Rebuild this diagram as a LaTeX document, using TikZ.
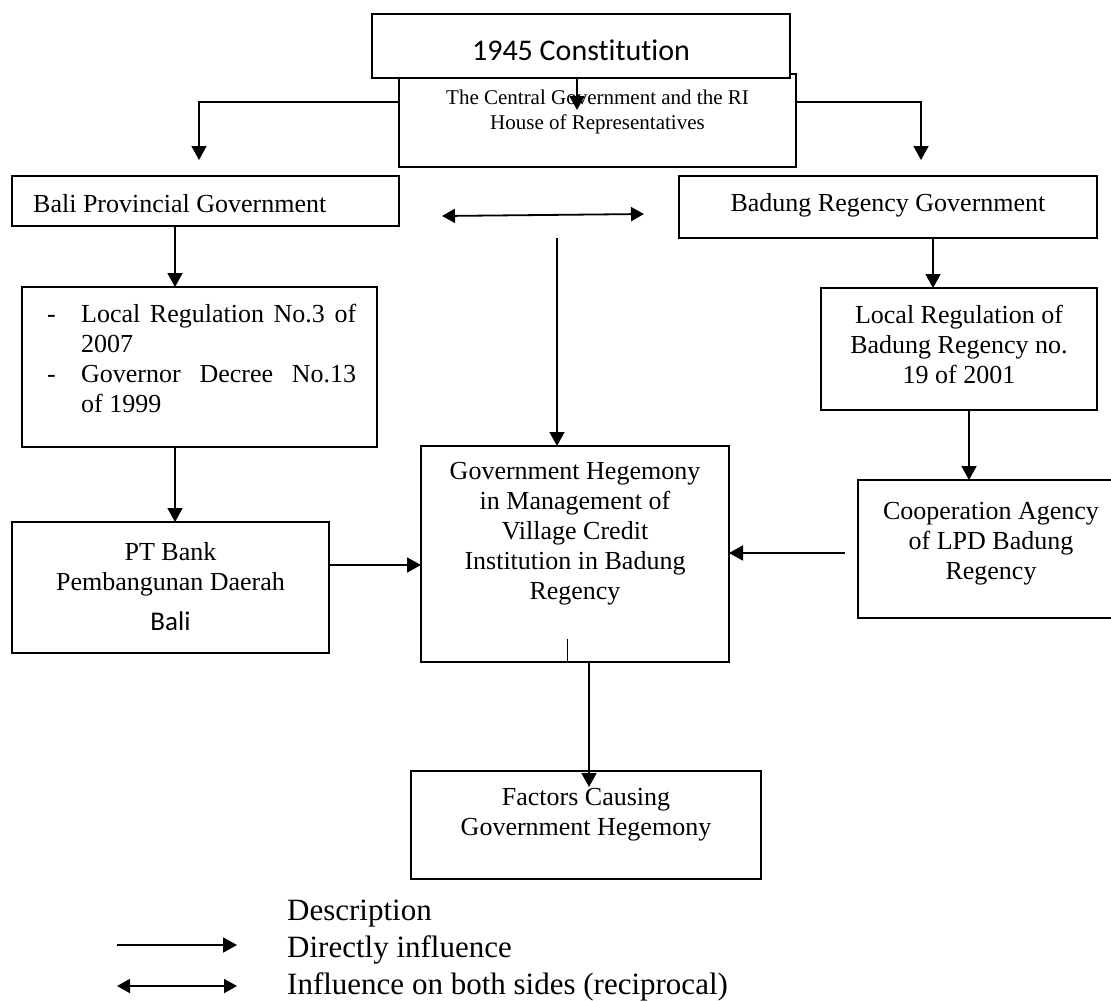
\documentclass[tikz,border=0pt]{standalone}
\usepackage{fontspec}
\setmainfont{Liberation Serif}
\newfontfamily\calfont[Ligatures=NoCommon]{Carlito}
\usepackage{tikz}
\usetikzlibrary{arrows.meta}

\begin{document}
\begin{tikzpicture}[x=1pt, y=-1pt,
    box/.style n args={2}{shape=rectangle, draw=black, line width=1.6pt, fill=white, anchor=north west, outer sep=0pt, inner sep=0pt, minimum width=#1, minimum height=#2},
    txt/.style={inner sep=0pt, font=\fontsize{26}{30}\selectfont},
    mtxt/.style={txt, align=center},
    arr/.style={line width=1.8pt, -{Triangle[length=14pt, width=15pt]}},
    dbl/.style={line width=1.8pt, {Triangle[length=13pt, width=14pt]}-{Triangle[length=13pt, width=14pt]}}]
      \useasboundingbox (0,0) rectangle (1111,1001);
      \fill [white] (0,0) rectangle (1111,1001);
      \node (cent) [box={397pt}{93pt}] at (399,74) {};
      \node (centtxt) [mtxt, anchor=north, font=\fontsize{21}{25}\selectfont] at ([yshift=-16pt]cent.north) {The Central Government and the RI\\House of Representatives};
      \node (cons) [box={418pt}{64pt}] at (372,14) {};
      \node (constxt) [txt, font=\calfont\fontsize{30}{36}\selectfont] at ([yshift=-4pt]cons.center) {1945 Constitution};
      \node (bali) [box={387pt}{50pt}] at (12,176) {};
      \node (balitxt) [txt, anchor=north west] at (33,194) {Bali Provincial Government};
      \node (badung) [box={418pt}{62pt}] at (679,176) {};
      \node (badtxt) [txt, anchor=north] at ([yshift=-17pt]badung.north) {Badung Regency Government};
      \node (lreg) [box={355pt}{160pt}] at (22,287) {};
      \node (lregtxt) [txt, anchor=north west] at (47,301) {\begin{tabular}{@{}p{34pt}@{}p{275pt}@{}}-&Local Regulation No.3 of\linebreak 2007\\-&Governor Decree No.13\linebreak of 1999\end{tabular}};
      \node (bank) [box={317pt}{131pt}] at (12,522) {};
      \node (banktxt) [mtxt, anchor=north] at ([yshift=-20pt]bank.north) {PT Bank\\Pembangunan Daerah\\[10pt]{\calfont\fontsize{27}{30}\selectfont Bali}};
      \node (heg) [box={308pt}{216pt}] at (421,446) {};
      \node (hegtxt) [mtxt, anchor=north] at ([yshift=-16pt]heg.north) {Government Hegemony\\in Management of\\Village Credit\\Institution in Badung\\Regency};
      \node (lrb) [box={276pt}{122pt}] at (821,288) {};
      \node (lrbtxt) [mtxt, anchor=north] at ([yshift=-17pt]lrb.north) {Local Regulation of\\Badung Regency no.\\19 of 2001};
      \node (coop) [box={266pt}{138pt}] at (858,480) {};
      \node (cooptxt) [mtxt, anchor=north] at ([yshift=-22pt]coop.north) {Cooperation Agency\\of LPD Badung\\Regency};
      \node (fact) [box={350pt}{108pt}] at (411,771) {};
      \node (facttxt) [mtxt, anchor=north] at ([yshift=-17pt]fact.north) {Factors Causing\\Government Hegemony};
      \coordinate (centin) at (577,110);
      \coordinate (row) at (0,102);
      \coordinate (baliin) at (199,160);
      \coordinate (badin) at (921,160);
      \coordinate (lcol) at (175,0);
      \coordinate (bankrow) at (0,565);
      \coordinate (midtop) at (557,238);
      \coordinate (recl) at (442,216);
      \coordinate (recr) at (644,214);
      \coordinate (rcol) at (933,0);
      \coordinate (rcol2) at (969,0);
      \coordinate (coopout) at (845,553);
      \coordinate (stub) at (567,639);
      \coordinate (factin) at (589,787);
      \draw [arr] (cons.south -| centin) -- (centin);
      \draw [arr] (cent.west |- row) -| (baliin);
      \draw [arr] (cent.east |- row) -| (badin);
      \draw [arr] (bali.south -| lcol) -- (lreg.north -| lcol);
      \draw [arr] (lreg.south -| lcol) -- (bank.north -| lcol);
      \draw [arr] (bank.east |- bankrow) -- (heg.west |- bankrow);
      \draw [dbl] (recl) -- (recr);
      \draw [arr, line width=1.4pt] (midtop) -- (heg.north -| midtop);
      \draw [arr] (badung.south -| rcol) -- (lrb.north -| rcol);
      \draw [arr] (lrb.south -| rcol2) -- (coop.north -| rcol2);
      \draw [arr] (coopout) -- (heg.east |- coopout);
      \draw [line width=1pt] (heg.south -| stub) -- (stub);
      \draw [arr] (heg.south -| factin) -- (factin);
      \node (legtxt) [txt, anchor=north west, align=left, font=\fontsize{31}{37}\selectfont] at (287,900) {Description\\Directly influence\\Influence on both sides (reciprocal)};
      \coordinate (one1) at (117,945);
      \coordinate (one2) at (237,945);
      \coordinate (two1) at (117,986);
      \coordinate (two2) at (237,986);
      \draw [arr] (one1) -- (one2);
      \draw [dbl] (two1) -- (two2);
    \end{tikzpicture}
\end{document}
